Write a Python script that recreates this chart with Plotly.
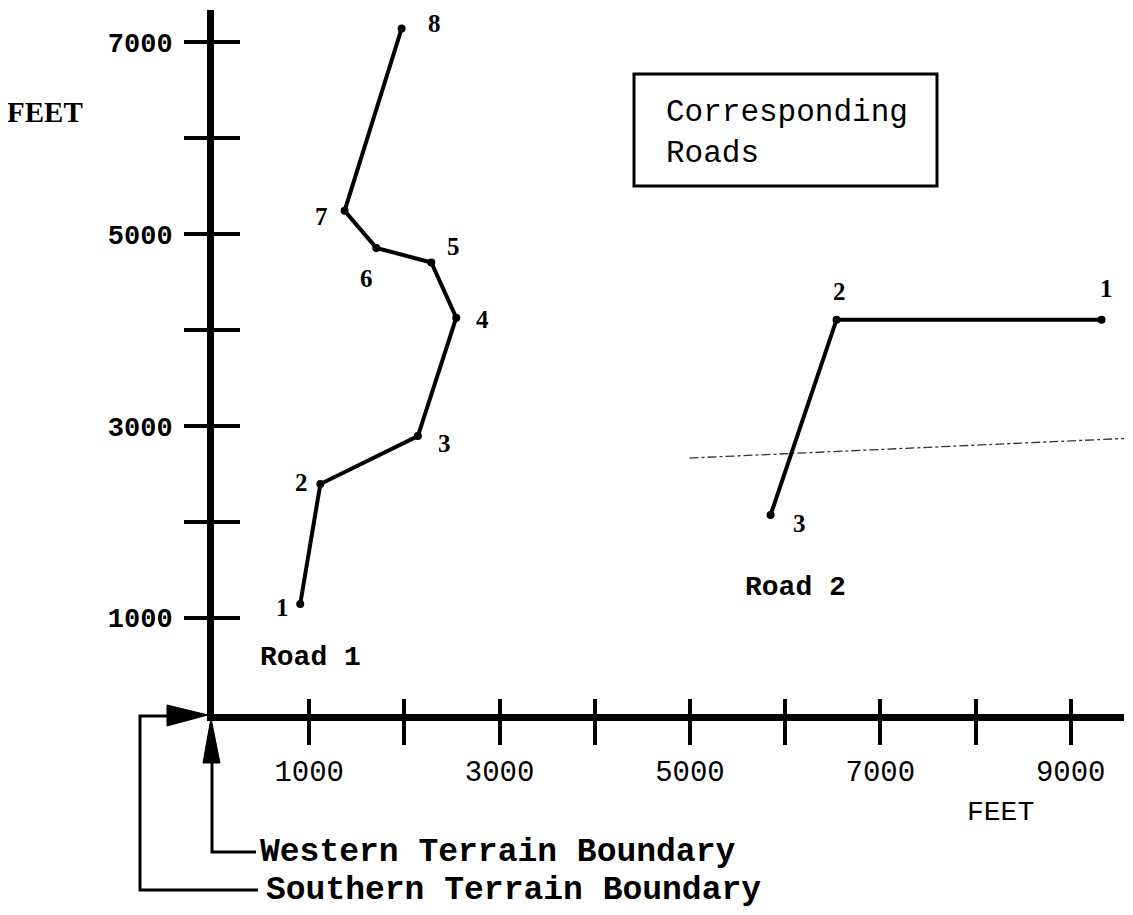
import plotly.graph_objects as go

# ---------------- data ----------------
road1_x = [906, 1117, 2142, 2545, 2283, 1705, 1372, 1971]
road1_y = [1146, 2396, 2896, 4130, 4705, 4857, 5243, 7143]
road1_labels = ["1", "2", "3", "4", "5", "6", "7", "8"]

road2_x = [9324, 6540, 5847]
road2_y = [4109, 4109, 2073]
road2_labels = ["1", "2", "3"]

artifact_x = [4996, 9649]
artifact_y = [2667, 2875]

x_tickvals = [1000, 2000, 3000, 4000, 5000, 6000, 7000, 8000, 9000]
x_ticktext = ["1000", "", "3000", "", "5000", "", "7000", "", "9000"]
y_tickvals = [1000, 2000, 3000, 4000, 5000, 6000, 7000]
y_ticktext = ["1000", "", "3000", "", "5000", "", "7000"]

# ---------------- styling / geometry ----------------
OFF = 8                     # page body margin
W, H = 1125, 907
L, R, T, B = 214, 1124, 10, 714      # plot area in page pixels
PW, PH = R - L, B - T

def px(x):
    return (x - L) / PW

def py(y):
    return (B - y) / PH

road1_shift = [(-18, -3), (-19, 2), (27, -7), (26, -2), (22, 16), (-10, -31), (-23, -6), (33, 5)]
road2_shift = [(5, 31), (3, 28), (29, -8)]

serif = "Liberation Serif"
mono = "Liberation Mono"

fig = go.Figure()

fig.add_trace(go.Scatter(
    x=artifact_x, y=artifact_y, mode="lines", xaxis="x", yaxis="y2",
    line=dict(color="#333333", width=1.3, dash="dashdot"), hoverinfo="skip"))

fig.add_trace(go.Scatter(
    x=road1_x, y=road1_y, mode="lines+markers", xaxis="x", yaxis="y",
    line=dict(color="black", width=4),
    marker=dict(color="black", size=8), cliponaxis=False))

fig.add_trace(go.Scatter(
    x=road2_x, y=road2_y, mode="lines+markers", xaxis="x2", yaxis="y",
    line=dict(color="black", width=4),
    marker=dict(color="black", size=8), cliponaxis=False))

annotations = []
for xs, ys, labs, shifts in [(road1_x, road1_y, road1_labels, road1_shift),
                             (road2_x, road2_y, road2_labels, road2_shift)]:
    for xv, yv, lab, (dx, dy) in zip(xs, ys, labs, shifts):
        annotations.append(dict(
            x=xv, y=yv, xref="x", yref="y", text=lab, showarrow=False,
            xanchor="center", yanchor="middle",
            xshift=dx, yshift=dy,
            font=dict(family=serif, size=25, color="black", weight="bold")))

def txt(x, y, text, font, xanchor="center"):
    return dict(x=px(x), y=py(y), xref="paper", yref="paper", text=text,
                showarrow=False, xanchor=xanchor, yanchor="middle", font=font)

annotations += [
    txt(310, 657, "Road 1", dict(family=mono, size=28, color="black", weight="bold")),
    txt(795, 587, "Road 2", dict(family=mono, size=28, color="black", weight="bold")),
    txt(664, 112, "Corresponding", dict(family=mono, size=31, color="black"), "left"),
    txt(664, 153, "Roads", dict(family=mono, size=31, color="black"), "left"),
    txt(45, 112, "FEET", dict(family=serif, size=29, color="black", weight="bold")),
    txt(1000, 812, "FEET", dict(family=mono, size=28, color="black")),
    txt(258, 852, "Western Terrain Boundary",
        dict(family=mono, size=33, color="black", weight="bold"), "left"),
    txt(264, 890, "Southern Terrain Boundary",
        dict(family=mono, size=33, color="black", weight="bold"), "left"),
]

def P(x, y):
    return f"{px(x):.5f},{py(y):.5f}"

shapes = [
    dict(type="rect", xref="paper", yref="paper", x0=px(634), x1=px(937), y0=py(74), y1=py(186),
         line=dict(color="black", width=3)),
    dict(type="path", xref="paper", yref="paper",
         path=f"M {P(211, 718)} L {P(203, 763)} L {P(220, 763)} Z",
         fillcolor="black", line=dict(color="black", width=1)),
    dict(type="path", xref="paper", yref="paper",
         path=f"M {P(212, 760)} L {P(212, 852)} L {P(256, 852)}",
         line=dict(color="black", width=3)),
    dict(type="path", xref="paper", yref="paper",
         path=f"M {P(208, 715)} L {P(167, 705)} L {P(167, 726)} Z",
         fillcolor="black", line=dict(color="black", width=1)),
    dict(type="path", xref="paper", yref="paper",
         path=f"M {P(170, 716)} L {P(140, 716)} L {P(140, 890)} L {P(258, 890)}",
         line=dict(color="black", width=3)),
]

XR = [0, 9560]
YR = [0, 7336]

fig.update_layout(
    width=W, height=H,
    margin=dict(l=L - OFF, r=W - (R - OFF), t=T - OFF, b=H - (B - OFF), autoexpand=False),
    plot_bgcolor="white", paper_bgcolor="white",
    showlegend=False,
    annotations=annotations,
    shapes=shapes,
    xaxis=dict(range=XR, showline=True, linewidth=7, linecolor="black",
               ticks="outside", ticklen=24, tickwidth=4, tickcolor="black",
               tickvals=x_tickvals, ticktext=x_ticktext, ticklabelstandoff=1,
               tickfont=dict(family=mono, size=29, color="black"),
               showgrid=False, zeroline=False, fixedrange=True),
    xaxis2=dict(range=XR, overlaying="x", anchor="y", side="bottom",
                ticks="inside", ticklen=15, tickwidth=4, tickcolor="black",
                tickvals=x_tickvals, showticklabels=False,
                showline=False, showgrid=False, zeroline=False, fixedrange=True),
    yaxis=dict(range=YR, showline=True, linewidth=7, linecolor="black",
               ticks="outside", ticklen=23, tickwidth=4, tickcolor="black",
               tickvals=y_tickvals, ticktext=y_ticktext, ticklabelstandoff=6,
               tickfont=dict(family=mono, size=27, color="black", weight="bold"),
               showgrid=False, zeroline=False, fixedrange=True),
    yaxis2=dict(range=YR, overlaying="y", anchor="x", side="left",
                ticks="inside", ticklen=26, tickwidth=4, tickcolor="black",
                tickvals=y_tickvals, showticklabels=False,
                showline=False, showgrid=False, zeroline=False, fixedrange=True),
)

fig.write_html("out.html")
